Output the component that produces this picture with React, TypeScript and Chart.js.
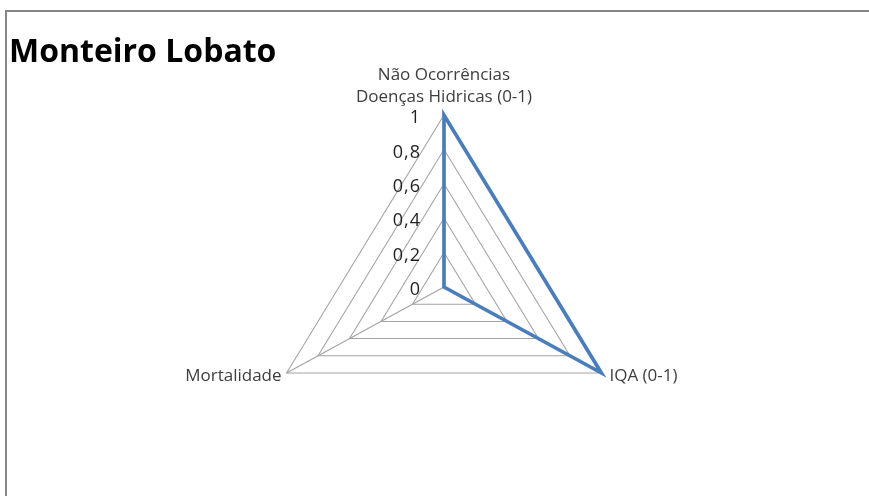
import { useEffect, useRef } from "react";
import { Chart, registerables } from "chart.js";

Chart.register(...registerables);

// Chart content
const chartTitle = "Monteiro Lobato";
const axisLabels: string[][] = [
  ["Não Ocorrências", "Doenças Hidricas (0-1)"],
  ["IQA (0-1)"],
  ["Mortalidade"],
];
const seriesValues = [1, 1, 0];
const tickValues = [0, 0.2, 0.4, 0.6, 0.8, 1];
const tickLabels = ["0", "0,2", "0,4", "0,6", "0,8", "1"];

const WIDTH = 869;
const HEIGHT = 496;
// the triangle is drawn a little wider than a circle-based radar
const STRETCH_X = 1.057;

const labelFont = "17px 'Open Sans', 'DejaVu Sans', sans-serif";
const tickFont = "18px 'Open Sans', 'DejaVu Sans', sans-serif";
const labelColor = "#3d3d3d";

const radarDecor = {
  id: "radarDecor",
  beforeDraw(chart: any) {
    const ctx: CanvasRenderingContext2D = chart.ctx;
    const r = chart.scales.r;
    ctx.save();
    ctx.fillStyle = "#ffffff";
    ctx.fillRect(0, 0, chart.width, chart.height);
    // outer frame
    ctx.strokeStyle = "#868686";
    ctx.lineWidth = 2;
    ctx.strokeRect(6, 11, chart.width + 40, chart.height + 40);
    // title
    ctx.fillStyle = "#000000";
    ctx.font = "bold 32px 'Open Sans', 'DejaVu Sans', sans-serif";
    ctx.textAlign = "left";
    ctx.textBaseline = "alphabetic";
    ctx.fillText(chartTitle, 9, 62);
    ctx.restore();
    // horizontal stretch around the radar centre for grid and series
    ctx.save();
    ctx.translate(r.xCenter, 0);
    ctx.scale(STRETCH_X, 1);
    ctx.translate(-r.xCenter, 0);
  },
  afterDraw(chart: any) {
    const ctx: CanvasRenderingContext2D = chart.ctx;
    ctx.restore();
    const r = chart.scales.r;
    const sx = (x: number) => r.xCenter + (x - r.xCenter) * STRETCH_X;

    ctx.save();
    // value ticks along the vertical axis
    ctx.font = tickFont;
    ctx.fillStyle = "#1f1f1f";
    ctx.textAlign = "right";
    ctx.textBaseline = "middle";
    (ctx as any).letterSpacing = "1px";
    tickValues.forEach((v, i) => {
      const y = r.yCenter - r.getDistanceFromCenterForValue(v);
      ctx.fillText(tickLabels[i], r.xCenter - 23, y + 3);
    });
    (ctx as any).letterSpacing = "0px";

    // axis names
    ctx.font = labelFont;
    ctx.fillStyle = labelColor;
    ctx.textBaseline = "alphabetic";
    const top = r.getPointPositionForValue(0, r.max);
    ctx.textAlign = "center";
    const topLines = axisLabels[0];
    topLines.forEach((line, i) => {
      const fromBottom = topLines.length - 1 - i;
      ctx.fillText(line, sx(top.x), top.y - 13 - fromBottom * 22);
    });
    const right = r.getPointPositionForValue(1, r.max);
    ctx.textAlign = "left";
    ctx.fillText(axisLabels[1][0], sx(right.x) + 8, right.y + 8);
    const left = r.getPointPositionForValue(2, r.max);
    ctx.textAlign = "right";
    ctx.fillText(axisLabels[2][0], sx(left.x) - 5, left.y + 8);
    ctx.restore();
  },
};

export default function App() {
  const canvasRef = useRef<HTMLCanvasElement | null>(null);

  useEffect(() => {
    const canvas = canvasRef.current;
    if (!canvas) return;
    const chart = new Chart(canvas, {
      type: "radar",
      data: {
        labels: axisLabels.map((l) => l.join(" ")),
        datasets: [
          {
            data: seriesValues,
            borderColor: "#4a7ebb",
            borderWidth: 3.5,
            borderJoinStyle: "miter",
            backgroundColor: "rgba(0,0,0,0)",
            fill: false,
            pointRadius: 0,
            pointHoverRadius: 0,
            clip: false as any,
          },
        ],
      },
      options: {
        responsive: false,
        maintainAspectRatio: false,
        animation: false,
        events: [],
        layout: { padding: { left: 144, right: 125, top: 115, bottom: 37 } },
        plugins: {
          legend: { display: false },
          title: { display: false },
          tooltip: { enabled: false },
        },
        scales: {
          r: {
            min: 0,
            max: 1,
            ticks: { display: false, stepSize: 0.2 },
            pointLabels: { display: false },
            grid: { color: "#a3a3a3", lineWidth: 1, circular: false },
            angleLines: { color: "#a3a3a3", lineWidth: 1 },
          },
        },
      },
      plugins: [radarDecor],
    });
    return () => chart.destroy();
  }, []);

  return (
    <div
      style={{
        position: "fixed",
        left: 0,
        top: 0,
        width: WIDTH,
        height: HEIGHT,
        overflow: "hidden",
        background: "#ffffff",
      }}
    >
      <canvas ref={canvasRef} width={WIDTH} height={HEIGHT} />
    </div>
  );
}
